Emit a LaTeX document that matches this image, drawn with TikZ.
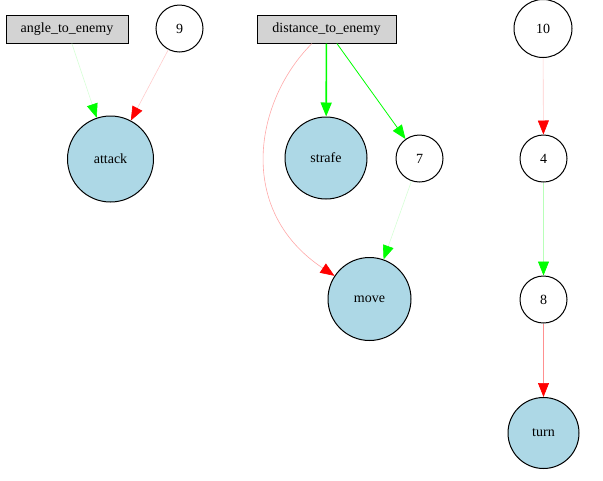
\documentclass[tikz,border=0pt]{standalone}
\usepackage{fontspec}
\setmainfont{Liberation Serif}
\usetikzlibrary{arrows.meta}
\definecolor{boxgray}{HTML}{D3D3D3}
\definecolor{outblue}{HTML}{ADD8E6}
\definecolor{gA}{HTML}{D6FFD6}
\definecolor{gB}{HTML}{B8FFB8}
\definecolor{gC}{HTML}{00FF00}
\definecolor{rA}{HTML}{FFCCCC}
\definecolor{rB}{HTML}{FFA8A8}
\definecolor{rC}{HTML}{FF9090}
\definecolor{tipgreen}{HTML}{00FF00}
\definecolor{tipred}{HTML}{FF0000}
\tikzset{
  every node/.style={font=\fontsize{14}{16}\selectfont, inner sep=0pt},
  inbox/.style={draw=black, line width=1pt, fill=boxgray, minimum height=28pt},
  hidden/.style={circle, draw=black, line width=1pt, fill=white},
  outnode/.style={circle, draw=black, line width=1pt, fill=outblue},
  gtip/.style={-{Triangle[length=14pt,width=11pt,color=tipgreen,fill=tipgreen]}},
  rtip/.style={-{Triangle[length=14pt,width=11pt,color=tipred,fill=tipred]}},
  thin edge/.style={line width=0.6pt},
}
\begin{document}
\begin{tikzpicture}[x=1pt,y=-1pt]
\useasboundingbox (0,0) rectangle (603,480);
% nodes
\node[inbox, minimum width=122pt] (ang) at (67,29) {angle\_to\_enemy};
\node[hidden, minimum size=47pt] (n9) at (179.5,28.5) {9};
\node[outnode, minimum size=86pt] (attack) at (110.5,159) {attack};
\node[inbox, minimum width=139pt] (dist) at (326.5,29) {distance\_to\_enemy};
\node[outnode, minimum size=82pt] (strafe) at (326,158) {strafe};
\node[hidden, minimum size=47pt] (n7) at (419.5,158.5) {7};
\node[outnode, minimum size=83pt] (move) at (369.5,299) {move};
\node[hidden, minimum size=58pt] (n10) at (543,28.5) {10};
\node[hidden, minimum size=47pt] (n4) at (543.5,158.5) {4};
\node[hidden, minimum size=47pt] (n8) at (543.5,299.5) {8};
\node[outnode, minimum size=71pt] (turn) at (543.5,433) {turn};
% edges
\draw[thin edge, draw=gA, gtip] (ang) -- (attack);
\draw[thin edge, draw=rA, rtip] (n9) -- (attack);
\draw[line width=1.6pt, draw=gC, gtip] (dist) -- (strafe);
\draw[line width=0.8pt, draw=gC, gtip] (dist) -- (n7);
\draw[thin edge, draw=rB, rtip] (dist.-135) .. controls (255,100) and (235,210) .. (move);
\draw[thin edge, draw=gA, gtip] (n7) -- (move);
\draw[thin edge, draw=rA, rtip] (n10) -- (n4);
\draw[thin edge, draw=gB, gtip] (n4) -- (n8);
\draw[thin edge, draw=rC, rtip] (n8) -- (turn);
\end{tikzpicture}
\end{document}
